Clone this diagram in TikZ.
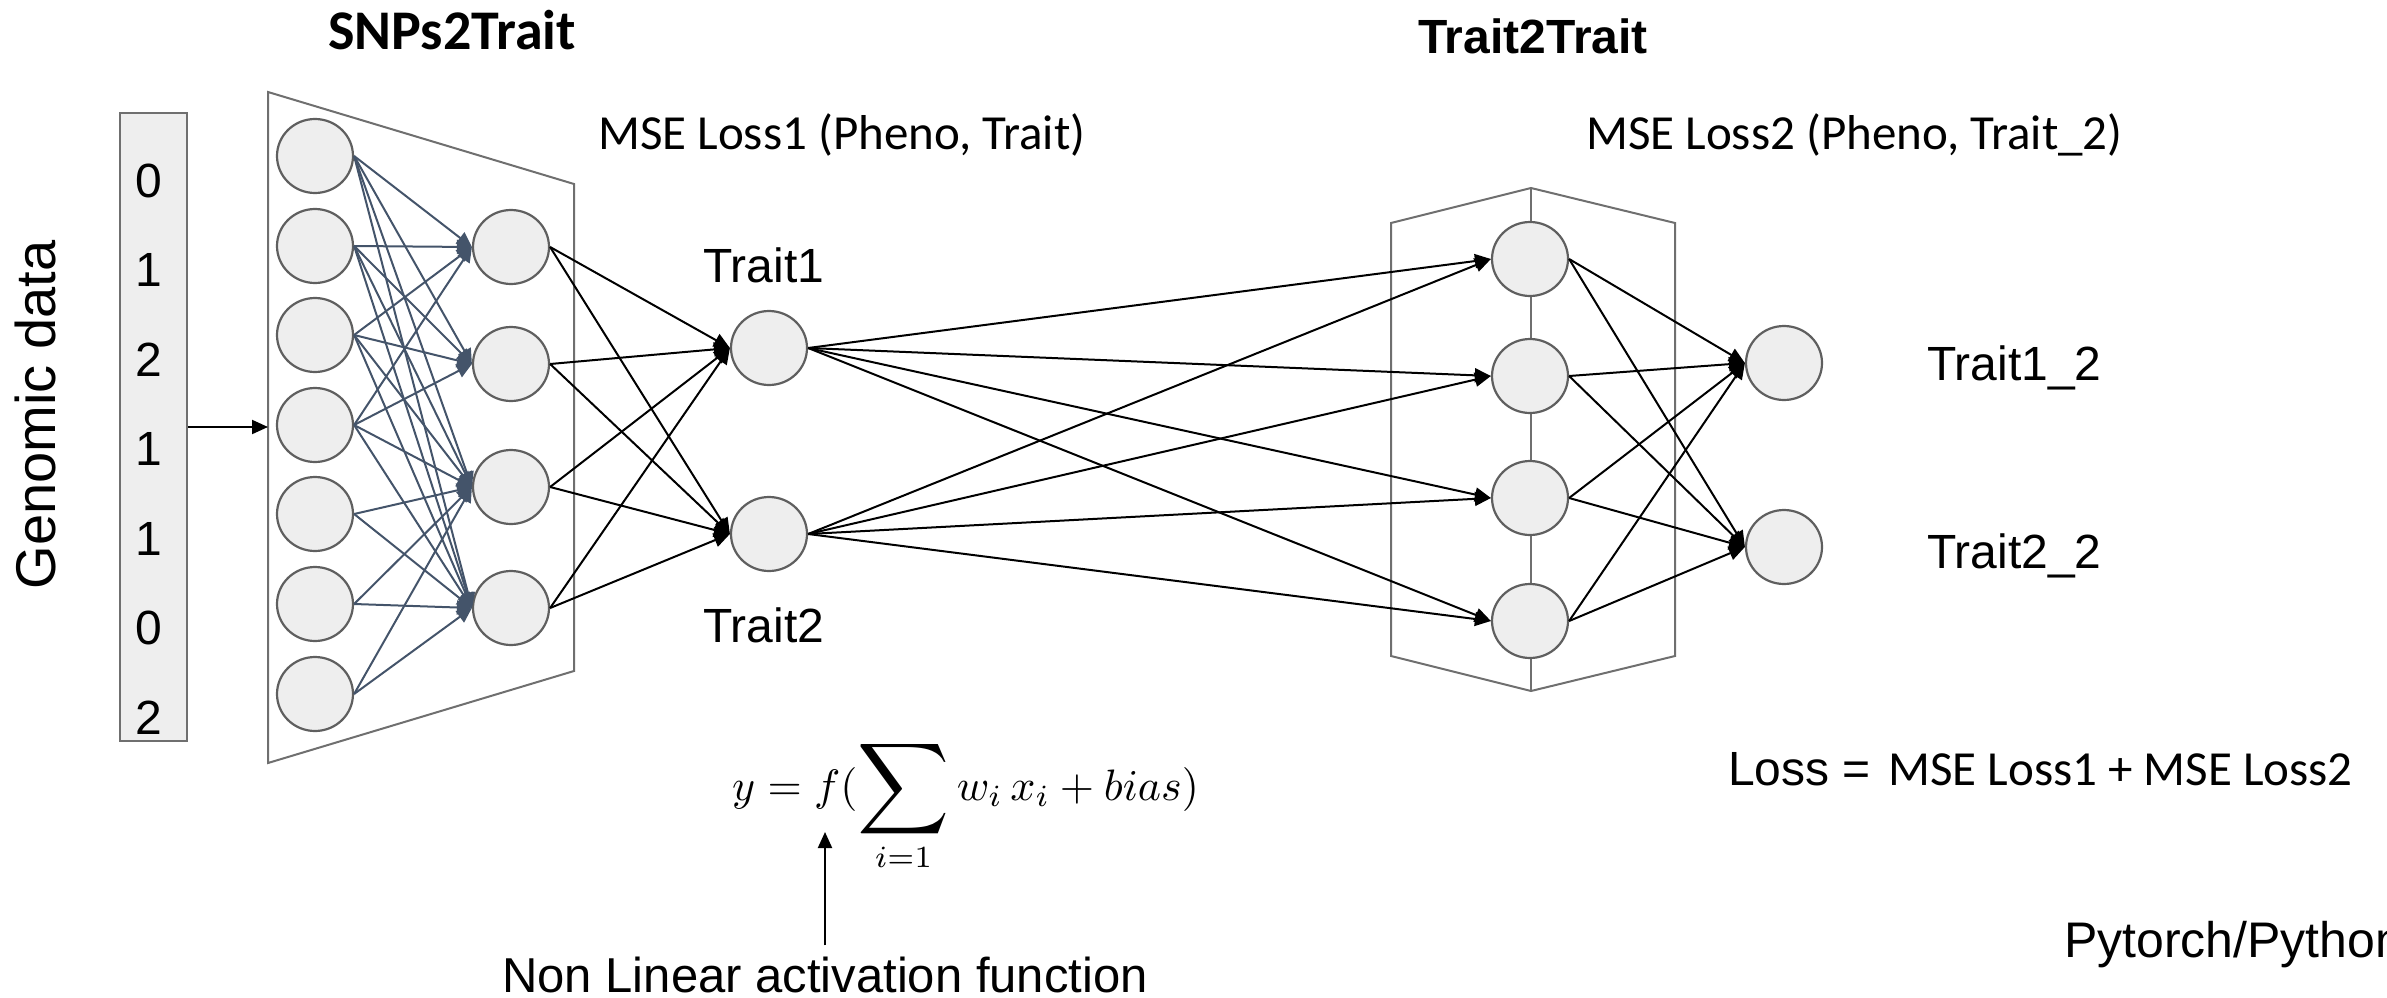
\documentclass[tikz,border=0pt]{standalone}
\usepackage{fontspec}
\setmainfont{Liberation Sans}
\newfontfamily\calibri{Carlito}
\usetikzlibrary{arrows.meta,shapes.geometric}
\definecolor{slate}{HTML}{44546A}
\definecolor{nodefill}{HTML}{EEEEEE}
\definecolor{nodeedge}{HTML}{5F5F5F}
\definecolor{boxedge}{HTML}{6F6F6F}
\begin{document}
\begin{tikzpicture}[x=1pt,y=-1pt,
  neuron/.style={ellipse, draw=nodeedge, fill=nodefill, line width=2.2pt, minimum width=76pt, minimum height=74pt, inner sep=0pt},
  conn/.style={draw=black, line width=2pt, -{Triangle[length=16pt,width=14pt]}},
  sconn/.style={draw=slate, line width=2pt, -{Triangle[length=15pt,width=14pt,fill=slate]}},
  lbl/.style={inner sep=0pt, font=\fontsize{48}{56}\selectfont},
  clbl/.style={inner sep=0pt, font=\calibri\fontsize{49}{58}\selectfont},
  frameline/.style={draw=boxedge, line width=2pt},
]
\useasboundingbox (0,0) rectangle (2387,998);

% frames
\draw[frameline] (268,92) -- (574,184) -- (574,671) -- (268,763) -- cycle;
\draw[frameline] (1391,223) -- (1531,188) -- (1675,223) -- (1675,656) -- (1531,691) -- (1391,656) -- cycle;
\draw[frameline] (1531,188) -- (1531,691);

% titles
\node[inner sep=0pt, anchor=base, font=\calibri\bfseries\fontsize{56}{64}\selectfont] (t1) at (452,50) {SNPs2Trait};
\node[inner sep=0pt, anchor=base, font=\bfseries\fontsize{48}{56}\selectfont] (t2) at (1533,53) {Trait2Trait};
\node[clbl, anchor=base west] (mse1) at (598,149) {MSE Loss1 (Pheno, Trait)};
\node[clbl, anchor=base west] (mse2) at (1586,149) {MSE Loss2 (Pheno, Trait\_2)};

% genomic data
\node[inner sep=0pt, anchor=base, rotate=90, font=\fontsize{56}{64}\selectfont] (gd) at (55,415) {Genomic data};
\node[draw=boxedge, fill=nodefill, line width=2pt, minimum width=67pt, minimum height=628pt, inner sep=0pt] (gbox) at (153.5,427) {};
\foreach \d [count=\k from 0] in {0,1,2,1,1,0,2}{
  \node[lbl, anchor=base] (dig\k) at (149,197+89.5*\k) {\d};
}
\coordinate (trapin) at (268,427);
\draw[draw=black, line width=2pt, -{Triangle[length=16pt,width=14pt]}] (gbox.east) -- (trapin);

% neurons
\foreach \y [count=\k] in {156,246,335,425,514,604,694}{
  \node[neuron] (in\k) at (315,\y) {};
}
\foreach \y [count=\k] in {247,364,487,608}{
  \node[neuron] (ha\k) at (511,\y) {};
}
\node[neuron] (tr1) at (769,348) {};
\node[neuron] (tr2) at (769,534) {};
\foreach \y [count=\k] in {259,376,498,621}{
  \node[neuron] (hb\k) at (1530,\y) {};
}
\node[neuron] (out1) at (1784,363) {};
\node[neuron] (out2) at (1784,547) {};

% connections input -> hidden1
\foreach \i in {1,2,3,4}{
  \foreach \j in {1,2,3,4}{
    \draw[sconn] (in\i.east) -- (ha\j.west);
  }
}
\foreach \i in {5,6,7}{
  \foreach \j in {3,4}{
    \draw[sconn] (in\i.east) -- (ha\j.west);
  }
}
% hidden1 -> traits
\foreach \j in {1,2,3,4}{
  \draw[conn] (ha\j.east) -- (tr1.west);
  \draw[conn] (ha\j.east) -- (tr2.west);
}
% traits -> hidden2
\foreach \j in {1,2,3,4}{
  \draw[conn] (tr1.east) -- (hb\j.west);
  \draw[conn] (tr2.east) -- (hb\j.west);
}
% hidden2 -> outputs
\foreach \j in {1,2,3,4}{
  \draw[conn] (hb\j.east) -- (out1.west);
  \draw[conn] (hb\j.east) -- (out2.west);
}

% labels
\node[lbl, anchor=base west] (l1) at (703,282) {Trait1};
\node[lbl, anchor=base west] (l2) at (703,642) {Trait2};
\node[lbl, anchor=base west] (l3) at (1927,380) {Trait1\_2};
\node[lbl, anchor=base west] (l4) at (1927,568) {Trait2\_2};

% formula
\node[inner sep=0pt, anchor=base west] (formula) at (732,800)
  {\scalebox{4.4}{$y=f(\mathop{\vcenter{\hbox{\scalebox{1.45}{$\displaystyle\sum$}}}}\limits_{i=1} w_i\,x_i+bias)$}};
\node[lbl, anchor=base, font=\fontsize{49}{56}\selectfont] (nla) at (825,992) {Non Linear activation function};
\coordinate (ftip) at (825,832);
\draw[draw=black, line width=2pt, -{Triangle[length=16pt,width=14pt]}] ([yshift=11pt]nla.north) -- (ftip);

% loss
\node[lbl, anchor=base west] (loss) at (1728,785) {Loss =};
\node[clbl, anchor=base west] (losssum) at (1888,785) {MSE Loss1 + MSE Loss2};
\node[lbl, anchor=base west, font=\fontsize{50}{58}\selectfont] (pt) at (2064,957) {Pytorch/Python};
\end{tikzpicture}
\end{document}
